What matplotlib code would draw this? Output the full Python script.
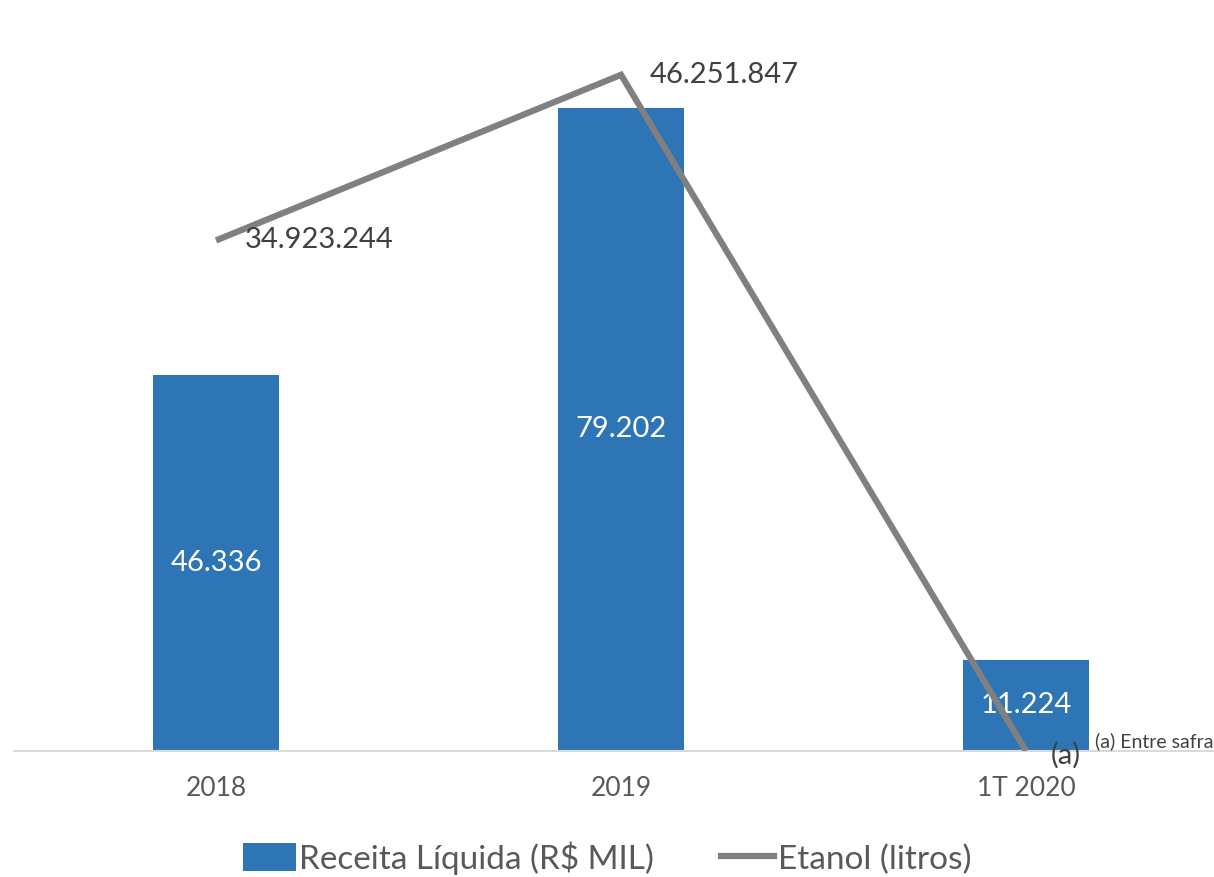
import matplotlib
matplotlib.use("Agg")
import matplotlib.pyplot as plt
from matplotlib.lines import Line2D
from matplotlib.patches import Patch
import numpy as np

categories = ["2018", "2019", "1T 2020"]
receita = [46336, 79202, 11224]
receita_labels = ["46.336", "79.202", "11.224"]
etanol = [34923244, 46251847, 0]
etanol_labels = ["34.923.244", "46.251.847", "(a)"]

plt.rcParams['font.family'] = ['Lato', 'DejaVu Sans']

W, H = 1214, 877
fig = plt.figure(figsize=(W / 100, H / 100), dpi=100)
left = 13.5 / W
bottom = (H - 751) / H
height = 731 / H
width = 1215 / W
ax = fig.add_axes([left, bottom, width, height])
ax2 = ax.twinx()

x = np.arange(len(categories))
bar_color = "#2E75B6"
line_color = "#808080"
text_color = "#404040"

ax.bar(x, receita, width=0.31, color=bar_color, zorder=2)
ax.set_xlim(-0.5, 2.5)
ax.set_ylim(0, 90000)
for xi, v, lab in zip(x, receita, receita_labels):
    ax.text(xi, v / 2, lab, ha="center", va="center", color="white", fontsize=21, zorder=5)

ax2.plot(x, etanol, color=line_color, linewidth=4.5, solid_capstyle="butt", solid_joinstyle="miter", zorder=3)
ax2.set_ylim(0, 50e6)
ax2.set_xlim(-0.5, 2.5)
for i, (xi, v, lab) in enumerate(zip(x, etanol, etanol_labels)):
    if i < 2:
        ax2.annotate(lab, (xi, v), xytext=(29, 0), textcoords="offset pixels",
                     ha="left", va="center", color=text_color, fontsize=21)
    else:
        ax2.annotate(lab, (xi, v), xytext=(40, -4), textcoords="offset pixels",
                     ha="center", va="center", color=text_color, fontsize=21)

for a in (ax, ax2):
    for s in ["top", "left", "right"]:
        a.spines[s].set_visible(False)
    a.spines["bottom"].set_color("#D9D9D9")
    a.spines["bottom"].set_linewidth(1.5)
    a.set_yticks([])
ax2.spines["bottom"].set_visible(False)
ax.set_xticks(x)
ax.set_xticklabels(categories, fontsize=19, color="#595959")
ax.tick_params(axis="x", length=0, pad=18)
ax.set_zorder(1)
ax2.set_zorder(2)
ax.patch.set_visible(False)
ax2.patch.set_visible(False)

fig.text(1095 / W, 1 - 741 / H, "(a) Entre safra", ha="left", va="center", fontsize=14, color=text_color)

handles = [Patch(facecolor=bar_color, edgecolor="none"),
           Line2D([0], [0], color=line_color, linewidth=4.5)]
fig.legend(handles, ["Receita Líquida (R$ MIL)", "Etanol (litros)"], loc="center",
           bbox_to_anchor=(0.5, 1 - 858 / H), ncol=2, frameon=False, fontsize=24,
           labelcolor="#595959", handlelength=1.6, handletextpad=0.1, columnspacing=2.0,
           handleheight=0.9)

fig.savefig("out.png", dpi=100)
